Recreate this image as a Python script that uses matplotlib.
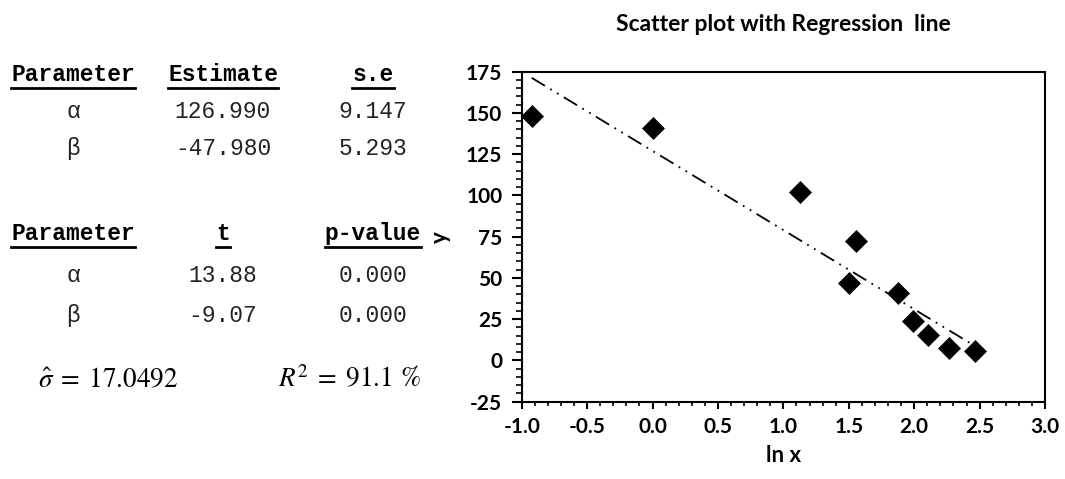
import numpy as np
import matplotlib
matplotlib.use("Agg")
from matplotlib import pyplot as plt
from matplotlib.lines import Line2D
from matplotlib.ticker import MultipleLocator, FormatStrFormatter

# data
ln_x = [-0.924, 0.0, 1.128, 1.505, 1.553, 1.874, 1.994, 2.104, 2.269, 2.466]
y = [148.3, 141.0, 102.2, 47.0, 72.3, 41.1, 23.7, 15.2, 7.8, 5.5]

alpha_est, beta_est = 126.990, -47.980
param_names = ["\u03b1", "\u03b2"]
estimates = ["126.990", "-47.980"]
std_errs = ["9.147", "5.293"]
t_vals = ["13.88", "-9.07"]
p_vals = ["0.000", "0.000"]
sigma_hat = "17.0492"
r_squared = "91.1"

plt.rcParams["axes.unicode_minus"] = False
plt.rcParams["mathtext.fontset"] = "stix"

W, H = 1065, 479
fig = plt.figure(figsize=(W / 100, H / 100), dpi=100)

# ---- scatter plot with regression line ----
ax = fig.add_axes([521.7 / W, 1 - 401.7 / H, (1045 - 521.7) / W, (401.7 - 71.7) / H])
axfont = ["Lato", "DejaVu Sans"]

ax.plot(ln_x, y, linestyle="none", marker="D", ms=11, color="black", mew=0.5)
xl = np.array([min(ln_x), max(ln_x)])
ax.plot(xl, alpha_est + beta_est * xl, color="black", lw=1.3,
        linestyle=(0, (8.6, 3.4, 1, 3.4, 1, 3.4)))

ax.set_xlim(-1.0, 3.0)
ax.set_ylim(-25, 175)
ax.xaxis.set_major_locator(MultipleLocator(0.5))
ax.xaxis.set_minor_locator(MultipleLocator(0.1))
ax.yaxis.set_major_locator(MultipleLocator(25))
ax.yaxis.set_minor_locator(MultipleLocator(5))
ax.xaxis.set_major_formatter(FormatStrFormatter("%.1f"))
ax.tick_params(which="major", direction="out", length=5, width=1.5, pad=6)
ax.tick_params(which="minor", direction="out", length=3, width=1.2)
ax.tick_params(axis="y", which="major", length=7, pad=7)
ax.tick_params(axis="y", which="minor", length=4.5)
for lab in ax.get_xticklabels() + ax.get_yticklabels():
    lab.set_family(axfont)
    lab.set_fontweight("bold")
    lab.set_fontsize(15)
for s in ax.spines.values():
    s.set_linewidth(1.5)

ax.set_title("Scatter plot with Regression  line", family=axfont, fontweight="bold",
             fontsize=16.5, pad=29)
ax.set_xlabel("ln x", family=axfont, fontweight="bold", fontsize=16, labelpad=6)
ax.set_ylabel("y", family=axfont, fontweight="bold", fontsize=16, labelpad=11)

# ---- parameter tables ----
mono = ["Liberation Mono", "DejaVu Sans Mono"]
col_x = [73, 223, 373]
txt_color = "#222222"


def underline_header(labels, base_y, line_y):
    texts = []
    for cx, lab in zip(col_x, labels):
        texts.append(fig.text(cx / W, 1 - base_y / H, lab, ha="center", va="baseline",
                              family=mono, fontweight="bold", fontsize=16.5, color="black"))
    fig.canvas.draw()
    r = fig.canvas.get_renderer()
    for t in texts:
        bb = t.get_window_extent(r)
        fig.add_artist(Line2D([bb.x0 / W, bb.x1 / W], [1 - line_y / H, 1 - line_y / H],
                              transform=fig.transFigure, color="black", lw=2))


def body_row(cells, base_y):
    for cx, val in zip(col_x, cells):
        fig.text(cx / W, 1 - base_y / H, val, ha="center", va="baseline",
                 family=mono, fontsize=16.5, color=txt_color)


underline_header(["Parameter", "Estimate", "s.e"], 81, 88)
body_row([param_names[0], estimates[0], std_errs[0]], 118)
body_row([param_names[1], estimates[1], std_errs[1]], 155)

underline_header(["Parameter", "t", "p-value"], 240, 247)
body_row([param_names[0], t_vals[0], p_vals[0]], 281.7)
body_row([param_names[1], t_vals[1], p_vals[1]], 321.7)

fig.text(38 / W, 1 - 387 / H, r"$\hat{\sigma}\;=\;$" + sigma_hat, ha="left", va="baseline",
         family="STIXGeneral", fontsize=19.5)
fig.text(278 / W, 1 - 387 / H, r"$R^2\;=\;$" + r_squared + " %", ha="left", va="baseline",
         family="STIXGeneral", fontsize=19.5)

fig.savefig("out.png", dpi=100)
